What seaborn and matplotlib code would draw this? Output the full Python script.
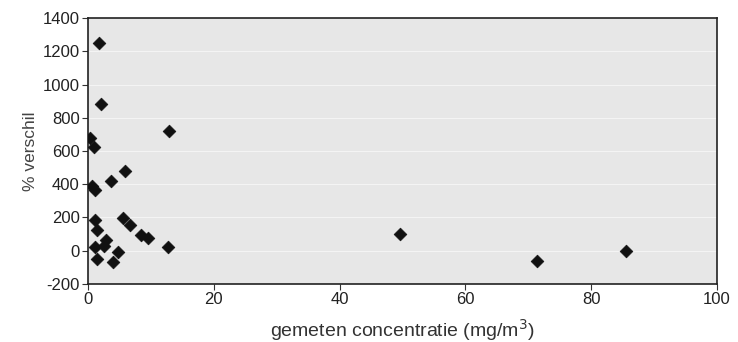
import matplotlib
matplotlib.use("Agg")
import matplotlib.pyplot as plt
import seaborn as sns
import pandas as pd

conc = [1.75, 2.0, 12.9, 0.3, 1.0, 5.9, 3.6, 0.7, 1.1, 1.1, 1.5, 5.6, 6.7, 8.4, 9.6,
        12.7, 2.9, 2.5, 1.1, 4.8, 1.5, 4.0, 49.6, 71.4, 85.5]
verschil = [1250, 882, 720, 680, 627, 478, 418, 392, 366, 185, 125, 195, 157, 95, 77,
            22, 65, 30, 24, -6, -50, -70, 102, -60, 0]
xticks = [0, 20, 40, 60, 80, 100]
yticks = [-200, 0, 200, 400, 600, 800, 1000, 1200, 1400]

df = pd.DataFrame({"conc": conc, "verschil": verschil})

sns.set_theme(style="white")
plt.rcParams["font.family"] = ["Liberation Sans", "DejaVu Sans"]
plt.rcParams["axes.unicode_minus"] = False

fig = plt.figure(figsize=(7.38, 3.42), dpi=100)
ax = fig.add_axes([0.1192, 0.170, 0.8523, 0.777])
ax.set_facecolor("#e7e7e7")

sns.scatterplot(data=df, x="conc", y="verschil", marker="D", s=42, color="#111111",
                edgecolor="#111111", linewidth=0.5, ax=ax, zorder=3)

ax.set_xlim(0, 100)
ax.set_ylim(-200, 1400)
ax.set_xticks(xticks)
ax.set_yticks(yticks)
for yv in yticks[1:-1]:
    ax.axhline(yv, color="#f4f4f4", lw=0.8, zorder=1)

for sp in ax.spines.values():
    sp.set_color("#222222")
    sp.set_linewidth(1.2)

ax.tick_params(axis="both", direction="out", length=4, width=0.8, color="#333333",
               labelsize=12, labelcolor="#222222", pad=2, bottom=True, left=True)
ax.set_xlabel("gemeten concentratie (mg/m$^3$)", fontsize=14, color="#333333", labelpad=7)
ax.set_ylabel("% verschil", fontsize=12.5, color="#444444", labelpad=3)

fig.savefig("out.png", dpi=100)
